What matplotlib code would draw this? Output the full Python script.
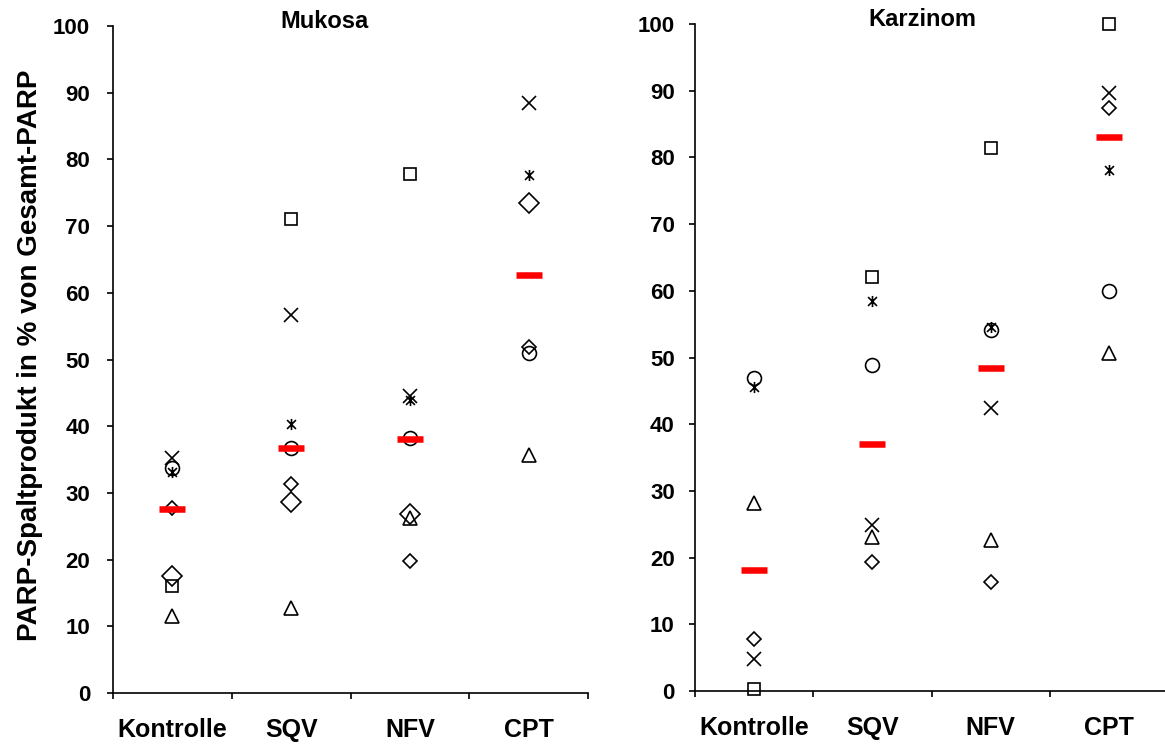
import numpy as np
import matplotlib
matplotlib.use('Agg')
import matplotlib.pyplot as plt
from matplotlib.path import Path

plt.rcParams['font.family'] = ['Liberation Sans', 'DejaVu Sans']

# ---- Daten ----
gruppen = ['Kontrolle', 'SQV', 'NFV', 'CPT']
nan = np.nan

# Mukosa
muk_quadrat = [16.0, 71.0, 77.8, nan]
muk_kreuz = [35.2, 56.7, 44.6, 88.4]
muk_stern = [33.1, 40.4, 43.9, 77.7]
muk_kreis = [33.7, 36.8, 38.2, 50.9]
muk_raute_klein = [27.7, 31.3, 19.8, 51.9]
muk_raute_gross = [17.5, 28.7, 26.9, 73.4]
muk_dreieck = [11.5, 12.7, 26.2, 35.7]
muk_median = [27.6, 36.8, 38.1, 62.6]

# Karzinom
kar_quadrat = [0.25, 62.0, 81.4, 100.0]
kar_kreuz = [4.75, 24.9, 42.4, 89.6]
kar_stern = [45.6, 58.4, 54.6, 78.1]
kar_kreis = [47.0, 48.9, 54.1, 60.0]
kar_raute_klein = [7.75, 19.4, 16.3, 87.4]
kar_raute_gross = [nan, nan, nan, nan]
kar_dreieck = [28.2, 23.1, 22.6, 50.6]
kar_median = [18.2, 37.0, 48.5, 83.0]

# Sternchen-Marker wie in Excel (x + senkrechter Strich)
stern_marker = Path([(0, -1), (0, 1), (-0.8, -0.8), (0.8, 0.8), (-0.8, 0.8), (0.8, -0.8)],
                    [Path.MOVETO, Path.LINETO, Path.MOVETO, Path.LINETO, Path.MOVETO, Path.LINETO])

marker_stile = [
    ('s', 8.6),
    ('x', 10),
    (stern_marker, 8),
    ('o', 10),
    ('D', 7.0),
    ('D', 10.2),
    ('^', 10),
]


def panel(ax, serien, median, titel, titel_x, pad_y):
    x = np.arange(1, len(gruppen) + 1)
    for werte, (m, ms) in zip(serien, marker_stile):
        ax.plot(x, werte, linestyle='none', marker=m, markersize=ms,
                markerfacecolor='none', markeredgecolor='black',
                markeredgewidth=1.2, clip_on=False, zorder=3)
    ax.plot(x, median, linestyle='none', marker='_', markersize=19,
            markeredgewidth=4.7, color='#ff0000', clip_on=False, zorder=4)

    ax.set_xlim(0.5, 4.5)
    ax.set_ylim(0, 100)
    ax.set_yticks(np.arange(0, 101, 10))
    ax.set_xticks(x)
    ax.set_xticklabels(gruppen)
    ax.set_xticks(np.arange(0.5, 4.6, 1), minor=True)
    ax.tick_params(axis='x', which='major', length=0, pad=18)
    ax.tick_params(axis='x', which='minor', length=4.5, width=1.2, direction='out')
    ax.tick_params(axis='y', length=4.5, width=1.2, direction='out', pad=pad_y)
    for lab in ax.get_xticklabels():
        lab.set_fontsize(18)
        lab.set_fontweight('bold')
    for lab in ax.get_yticklabels():
        lab.set_fontsize(16)
        lab.set_fontweight('bold')
    for s in ['top', 'right']:
        ax.spines[s].set_visible(False)
    for s in ['left', 'bottom']:
        ax.spines[s].set_linewidth(1.2)
    ax.text(titel_x, 1.006, titel, transform=ax.transAxes, ha='center', va='center',
            fontsize=17, fontweight='bold')


fig = plt.figure(figsize=(11.65, 7.44), dpi=100)
ax1 = fig.add_axes([113 / 1165, 51 / 744, 475 / 1165, 667 / 744])
ax2 = fig.add_axes([695 / 1165, 53 / 744, 473 / 1165, 667 / 744])

panel(ax1, [muk_quadrat, muk_kreuz, muk_stern, muk_kreis, muk_raute_klein,
            muk_raute_gross, muk_dreieck], muk_median, 'Mukosa', 0.446, 12)
panel(ax2, [kar_quadrat, kar_kreuz, kar_stern, kar_kreis, kar_raute_klein,
            kar_raute_gross, kar_dreieck], kar_median, 'Karzinom', 0.48, 10)

fig.text(30 / 1165, (744 - 355) / 744, 'PARP-Spaltprodukt in % von Gesamt-PARP',
         rotation=90, ha='center', va='center', fontsize=20, fontweight='bold')

fig.savefig('out.png', dpi=100)
